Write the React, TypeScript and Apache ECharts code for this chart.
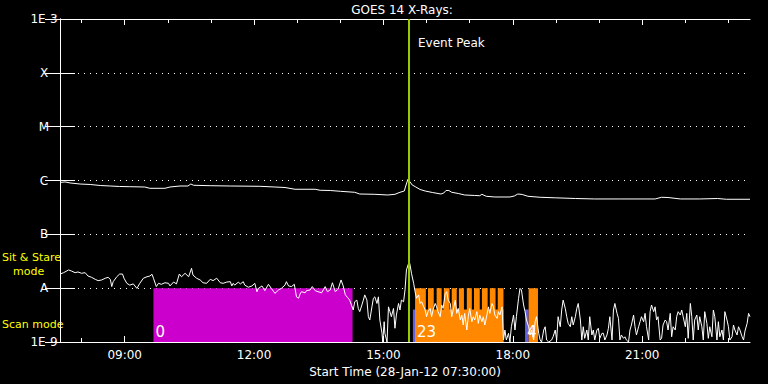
import { useEffect, useRef } from 'react';
import * as echarts from 'echarts';

// ---------- axis settings ----------
const START_HOUR_MIN = 7 * 60 + 30; // start time 07:30:00 (minutes after midnight)
const SPAN_MIN = 960; // 16 hours shown
const Y_MIN = 1e-9;
const Y_MAX = 1e-3;
const yLevelLabels = ['1E-9', 'A', 'B', 'C', 'M', 'X', '1E-3']; // decades 1e-9 .. 1e-3
const majorTickMin = [90, 270, 450, 630, 810]; // 09:00 12:00 15:00 18:00 21:00
const hourTickMin = [30, 90, 150, 210, 270, 330, 390, 450, 510, 570, 630, 690, 750, 810, 870, 930];

// ---------- 1-8 Å (long channel), minutes after start / W m^-2 ----------
const longTimes = [0, 7, 14, 28, 42, 56, 70, 83, 97, 118, 125, 146, 153, 167, 178, 182, 186, 209, 237, 278, 299, 313, 327, 355, 362, 376, 390, 410, 417, 438, 456, 466, 473, 479, 481, 484, 487, 490, 495, 501, 508, 518, 530, 534, 537, 541, 545, 554, 563, 577, 584, 587, 593, 605, 626, 632, 637, 643, 651, 668, 689, 717, 744, 779, 828, 837, 846, 863, 890, 915, 927, 960];
const longFlux = [9.2e-7, 9.4e-7, 9.0e-7, 8.6e-7, 8.43e-7, 8.07e-7, 7.9e-7, 7.74e-7, 7.67e-7, 7.57e-7, 7.16e-7, 7.16e-7, 7.57e-7, 7.9e-7, 7.9e-7, 8.6e-7, 8.15e-7, 8.01e-7, 7.9e-7, 7.8e-7, 7.57e-7, 7.41e-7, 6.87e-7, 6.87e-7, 6.58e-7, 6.52e-7, 6.3e-7, 6.04e-7, 5.61e-7, 5.54e-7, 5.38e-7, 5.54e-7, 6.04e-7, 6.38e-7, 7.9e-7, 1.05e-6, 9.4e-7, 8.26e-7, 7.57e-7, 6.81e-7, 6.38e-7, 5.99e-7, 5.61e-7, 5.86e-7, 6.52e-7, 6.52e-7, 6.04e-7, 5.74e-7, 5.38e-7, 5.27e-7, 5.22e-7, 5.54e-7, 5.09e-7, 4.94e-7, 4.94e-7, 5.15e-7, 5.61e-7, 5.5e-7, 5.09e-7, 4.88e-7, 4.77e-7, 4.63e-7, 4.54e-7, 4.54e-7, 4.54e-7, 4.88e-7, 4.83e-7, 4.54e-7, 4.54e-7, 4.63e-7, 4.48e-7, 4.48e-7];

// ---------- 0.5-4 Å (short channel) ----------
const shortTimes = [
  0, 5, 12, 16, 21, 25, 30, 35, 39, 44, 49, 53, 58, 63, 67, 70, 72, 74, 79, 83, 87, 89, 93, 97, 102, 107, 111, 116, 121, 125, 128, 130, 134, 137, 141, 146, 151, 153, 158, 162, 166, 169, 174, 179, 183, 185, 190, 195, 199, 204, 209, 213, 218, 223, 227, 232, 237, 239, 241,
  243, 248, 251, 255, 257, 262, 267, 271, 274, 276, 281, 285, 290, 294, 299, 304, 308, 313, 315, 318, 322, 326, 329, 332, 334, 336, 341, 343, 348, 351, 355, 359, 364, 369, 372, 376, 379, 383, 387, 391, 394, 397, 401, 403, 406, 408, 410, 413, 415, 417, 420, 422, 424, 427, 429, 431, 434, 436, 438, 441, 443, 445, 448, 449, 451, 452, 455, 457, 459, 461, 464, 466, 468, 471, 473, 475, 478, 480, 481, 482, 485, 486, 487, 489, 492, 494, 496, 499, 501, 503, 505, 508, 510, 512, 515, 517, 519, 522, 524, 526, 529, 531, 533, 536, 538, 540, 543, 545, 547, 550, 552, 554, 557, 559, 561, 563, 566, 568, 570, 573, 575, 577, 580, 582, 584, 587, 589, 591, 594, 596, 598, 601, 603, 605, 608, 610, 612, 615, 617, 619, 621, 624, 626, 628, 631, 633, 635, 638, 640, 642, 645, 647, 649, 652, 654, 656, 659, 661, 663, 666, 668, 670, 673, 675, 677, 680, 684, 686, 689, 691, 693, 696, 698, 700, 703, 705, 707, 710, 712, 714, 717, 719, 721,
  724, 726, 728, 730, 733, 735, 737, 740, 742, 744, 747, 749, 751, 754, 756, 758, 761, 763, 765, 768, 770, 772, 775, 777, 779, 781, 784, 786, 788, 791, 793, 795, 798, 800, 802, 805, 807, 809, 812, 814, 816, 819, 821, 823, 826, 828, 830, 832, 835, 837, 839, 842, 844, 846, 849, 851, 853, 856, 858, 860, 863, 865, 867, 870, 872, 874, 877, 879, 881, 883, 886, 888, 890, 893, 895, 897, 900, 902, 904, 907, 909, 911, 914, 916, 918, 921, 923, 925, 928, 930, 932, 935, 937, 939, 942, 944, 946, 949, 951, 953, 956, 958, 960,
];
const shortFlux = [
  1.83e-8, 1.94e-8, 2.18e-8, 2.08e-8, 1.94e-8, 2.0e-8, 1.89e-8, 1.94e-8, 1.68e-8, 1.59e-8, 1.46e-8, 1.38e-8, 1.42e-8, 1.53e-8, 1.59e-8, 1.46e-8, 1.07e-8, 1.32e-8, 1.63e-8, 1.83e-8, 1.83e-8, 1.53e-8, 1.23e-8, 1.14e-8, 1.2e-8, 9.9e-9, 1.23e-8, 1.53e-8, 1.63e-8, 1.68e-8, 1.81e-8, 1.53e-8, 1.07e-8, 1.23e-8, 1.18e-8, 1.26e-8, 1.23e-8, 1.1e-8, 1.3e-8, 1.2e-8, 1.83e-8, 1.63e-8, 1.89e-8, 1.63e-8, 2.34e-8, 1.75e-8, 1.53e-8, 1.42e-8, 1.26e-8, 1.23e-8, 1.46e-8, 1.38e-8, 1.53e-8, 1.26e-8, 1.23e-8, 1.3e-8, 1.32e-8, 1.1e-8, 1.23e-8,
  1.14e-8, 1.29e-8, 1.2e-8, 1.32e-8, 1.14e-8, 1.04e-8, 1.1e-8, 1.23e-8, 8.6e-9, 9.9e-9, 1.1e-8, 9.0e-9, 1.18e-8, 9.9e-9, 8.0e-9, 9.25e-9, 9.9e-9, 1.14e-8, 1.32e-8, 1.1e-8, 1.07e-8, 1.18e-8, 6.9e-9, 6.5e-9, 7.8e-9, 8.6e-9, 8.2e-9, 9.0e-9, 9.25e-9, 1.07e-8, 9.0e-9, 8.6e-9, 8.2e-9, 1.07e-8, 8.6e-9, 9.25e-9, 1.26e-8, 8.6e-9, 9.6e-9, 1.42e-8, 1.1e-8, 7.5e-9, 6.5e-9, 6.0e-9, 4.67e-9, 3.93e-9, 5.6e-9, 6.0e-9, 4.2e-9, 3.66e-9, 4.87e-9, 6.0e-9, 7.5e-9, 6.0e-9, 2.95e-9, 2.56e-9, 4.5e-9, 6.5e-9, 6.9e-9, 5.2e-9, 6.9e-9, 2.56e-9, 1.45e-9, 1.0e-9, 2.38e-9, 1.45e-9, 1.0e-9, 4.5e-9, 3.66e-9, 2.95e-9, 4.2e-9, 1.8e-9, 3.17e-9, 5.2e-9, 3.93e-9, 6.0e-9, 5.6e-9, 9.25e-9, 1.42e-8, 2.18e-8, 2.9e-8, 3.1e-8, 2.7e-8, 1.89e-8, 1.23e-8, 8.6e-9, 6.5e-9, 7.5e-9, 5.2e-9, 5.6e-9, 4.87e-9, 3.93e-9, 2.95e-9, 3.66e-9, 4.2e-9, 2.95e-9, 3.93e-9, 5.2e-9, 4.5e-9, 3.66e-9, 2.95e-9, 4.87e-9, 4.2e-9, 8.0e-9, 8.6e-9, 6.0e-9, 5.2e-9, 2.95e-9, 3.93e-9, 6.0e-9, 3.4e-9, 4.2e-9, 2.56e-9, 3.17e-9, 2.07e-9, 3.4e-9, 1.67e-9, 2.95e-9, 4.2e-9, 2.38e-9, 2.95e-9, 2.56e-9, 3.66e-9, 2.22e-9, 3.17e-9, 2.38e-9, 2.95e-9, 2.07e-9, 3.17e-9, 4.5e-9, 3.4e-9, 5.2e-9, 4.5e-9, 3.17e-9, 2.75e-9, 3.66e-9, 3.17e-9, 4.5e-9, 1.09e-9, 1.67e-9, 1.09e-9, 1.45e-9, 1.0e-9, 1.92e-9, 3.17e-9, 1.67e-9, 2.95e-9, 6.5e-9, 9.9e-9, 9.25e-9, 4.87e-9, 3.66e-9, 2.56e-9, 1.92e-9, 1.35e-9, 1.67e-9, 1.09e-9, 2.38e-9, 2.95e-9, 1.45e-9, 1.09e-9, 1.0e-9, 1.67e-9, 1.92e-9, 1.09e-9, 1.0e-9, 1.09e-9, 1.25e-9, 1.67e-9, 1.09e-9, 2.95e-9, 1.92e-9, 3.93e-9, 6.0e-9, 4.2e-9, 2.95e-9, 2.22e-9, 1.92e-9, 2.95e-9, 2.07e-9, 2.95e-9, 4.2e-9, 5.2e-9,
  2.56e-9, 1.09e-9, 1.92e-9, 1.17e-9, 1.67e-9, 1.09e-9, 2.95e-9, 1.35e-9, 1.67e-9, 1.09e-9, 1.67e-9, 1.8e-9, 1.17e-9, 1.45e-9, 1.45e-9, 1.09e-9, 1.35e-9, 1.8e-9, 2.95e-9, 1.09e-9, 3.93e-9, 5.2e-9, 3.4e-9, 2.75e-9, 1.09e-9, 1.35e-9, 1.17e-9, 1.25e-9, 1.09e-9, 1.0e-9, 1.67e-9, 2.07e-9, 3.17e-9, 1.92e-9, 1.35e-9, 1.92e-9, 2.38e-9, 2.95e-9, 2.38e-9, 3.4e-9, 1.92e-9, 1.09e-9, 3.66e-9, 4.87e-9, 3.66e-9, 4.5e-9, 2.56e-9, 2.95e-9, 1.09e-9, 1.17e-9, 2.07e-9, 2.56e-9, 2.38e-9, 1.67e-9, 3.4e-9, 1.25e-9, 1.92e-9, 1.67e-9, 2.95e-9, 3.66e-9, 3.17e-9, 3.93e-9, 2.95e-9, 1.92e-9, 3.4e-9, 1.17e-9, 5.2e-9, 2.95e-9, 1.09e-9, 2.56e-9, 3.17e-9, 1.67e-9, 2.95e-9, 1.92e-9, 1.09e-9, 3.66e-9, 2.22e-9, 1.17e-9, 1.92e-9, 1.25e-9, 3.93e-9, 2.95e-9, 1.09e-9, 2.38e-9, 1.25e-9, 1.67e-9, 1.09e-9, 3.66e-9, 2.56e-9, 1.92e-9, 1.09e-9, 1.25e-9, 2.07e-9, 1.67e-9, 1.35e-9, 1.92e-9, 1.67e-9, 1.25e-9, 1.09e-9, 1.6e-9, 2.22e-9, 3.4e-9, 2.95e-9,
];

// ---------- event peak ----------
const eventPeakMin = 485;

// ---------- observing-mode blocks (minutes after start, top level in W m^-2) ----------
const blockStart = [130, 491, 494, 494, 512, 524, 534, 545, 555, 566, 576, 587, 598, 609, 647, 652];
const blockEnd = [407, 494, 617, 509, 520, 531, 542, 552, 562, 573, 584, 595, 606, 617, 652, 665];
const blockTop = [1e-8, 4e-9, 4e-9, 1e-8, 1e-8, 1e-8, 1e-8, 1e-8, 1e-8, 1e-8, 1e-8, 1e-8, 1e-8, 1e-8, 4e-9, 1e-8];
const blockMode = ['stare0', 'scan', 'stare', 'stare', 'stare', 'stare', 'stare', 'stare', 'stare', 'stare', 'stare', 'stare', 'stare', 'stare', 'scan', 'stare'];
const modeColors: Record<string, string> = { stare0: '#cc00cc', stare: '#ff8800', scan: '#6060e0' };
const targetLabelMin = [130, 494, 647];
const targetLabelText = ['0', '23', '4'];

const FONT = 'DejaVu Sans';

function fmtTime(m: number): string {
  const t = START_HOUR_MIN + m;
  const hh = Math.floor(t / 60) % 24;
  const mm = Math.round(t % 60);
  return `${String(hh).padStart(2, '0')}:${String(mm).padStart(2, '0')}`;
}

export default function App() {
  const ref = useRef<HTMLDivElement>(null);

  useEffect(() => {
    if (!ref.current) return;
    const chart = echarts.init(ref.current, undefined, { renderer: 'svg' });
    const white = '#ffffff';

    const xBase = { type: 'value', min: 0, max: SPAN_MIN, gridIndex: 0, splitLine: { show: false } };
    const yBase = { type: 'log', logBase: 10, min: Y_MIN, max: Y_MAX, splitNumber: 6, minorTick: { show: false } };
    const txt = (text: string, x: number, y: number, fill: string, size: number, align = 'left') => ({
      type: 'text',
      x,
      y,
      style: { text, fill, font: `${size}px ${FONT}`, align, verticalAlign: 'middle', textAlign: align, textVerticalAlign: 'middle' },
    });

    const option: any = {
      animation: false,
      backgroundColor: '#000000',
      grid: { left: 60, right: 18, top: 19, bottom: 42 },
      xAxis: [
        {
          ...xBase,
          position: 'bottom',
          axisLine: { show: true, lineStyle: { color: white, width: 1 } },
          axisTick: { show: true, inside: true, length: 6, customValues: majorTickMin, lineStyle: { color: white } },
          axisLabel: { show: true, customValues: majorTickMin, formatter: (v: number) => fmtTime(v), color: white, fontSize: 12, fontFamily: FONT, margin: 7 },
          name: 'Start Time (28-Jan-12 07:30:00)',
          nameLocation: 'middle',
          nameGap: 20,
          nameTextStyle: { color: white, fontSize: 12, fontFamily: FONT },
        },
        {
          ...xBase,
          position: 'bottom',
          axisLine: { show: false },
          axisTick: { show: true, inside: true, length: 4, customValues: hourTickMin, lineStyle: { color: white } },
          axisLabel: { show: false },
        },
        {
          ...xBase,
          position: 'top',
          axisLine: { show: true, lineStyle: { color: white, width: 1 } },
          axisTick: { show: true, inside: true, length: 6, customValues: majorTickMin, lineStyle: { color: white } },
          axisLabel: { show: false },
        },
        {
          ...xBase,
          position: 'top',
          axisLine: { show: false },
          axisTick: { show: true, inside: true, length: 4, customValues: hourTickMin, lineStyle: { color: white } },
          axisLabel: { show: false },
        },
      ],
      yAxis: [
        {
          ...yBase,
          position: 'left',
          axisLine: { show: true, lineStyle: { color: white, width: 1 } },
          axisTick: { show: true, inside: true, length: 15, lineStyle: { color: white } },
          axisLabel: {
            color: white,
            fontSize: 12,
            fontFamily: FONT,
            margin: 16,
            align: 'center',
            formatter: (v: number) => {
              const e = Math.round(Math.log10(v));
              return yLevelLabels[e + 9] ?? '';
            },
          },
          splitLine: { show: true, lineStyle: { color: white, width: 1, type: [1, 5] } },
        },
        {
          ...yBase,
          position: 'right',
          axisLine: { show: true, lineStyle: { color: white, width: 1 } },
          axisTick: { show: true, inside: true, length: 15, lineStyle: { color: white } },
          axisLabel: { show: false },
          splitLine: { show: false },
        },
      ],
      series: [
        {
          type: 'custom',
          name: 'modes',
          xAxisIndex: 0,
          yAxisIndex: 0,
          z: 1,
          silent: true,
          encode: { x: [0, 1], y: 2 },
          data: blockStart.map((s, i) => [s, blockEnd[i], blockTop[i]]),
          renderItem: (params: any, api: any) => {
            const p1 = api.coord([api.value(0), api.value(2)]);
            const p2 = api.coord([api.value(1), Y_MIN]);
            return {
              type: 'rect',
              shape: { x: p1[0], y: p1[1], width: p2[0] - p1[0], height: p2[1] - p1[1] },
              style: { fill: modeColors[blockMode[params.dataIndex]] },
            };
          },
        },
        {
          type: 'line',
          name: 'long',
          xAxisIndex: 0,
          yAxisIndex: 0,
          z: 3,
          symbol: 'none',
          showSymbol: false,
          lineStyle: { color: white, width: 1 },
          data: longTimes.map((t, i) => [t, longFlux[i]]),
        },
        {
          type: 'line',
          name: 'short',
          xAxisIndex: 0,
          yAxisIndex: 0,
          z: 3,
          symbol: 'none',
          showSymbol: false,
          lineStyle: { color: white, width: 1 },
          data: shortTimes.map((t, i) => [t, shortFlux[i]]),
        },
        {
          type: 'custom',
          name: 'targets',
          xAxisIndex: 0,
          yAxisIndex: 0,
          z: 5,
          silent: true,
          encode: { x: 0, y: 1 },
          data: targetLabelMin.map((m) => [m, Y_MIN]),
          renderItem: (params: any, api: any) => {
            const p = api.coord([api.value(0), api.value(1)]);
            return {
              type: 'text',
              x: p[0] + 2,
              y: p[1] - 3,
              style: {
                text: targetLabelText[params.dataIndex],
                fill: white,
                font: `15px ${FONT}`,
                align: 'left',
                verticalAlign: 'bottom',
                textAlign: 'left',
                textVerticalAlign: 'bottom',
              },
            };
          },
          markLine: {
            silent: true,
            symbol: ['none', 'none'],
            label: { show: false },
            lineStyle: { color: '#99cc00', width: 2, type: 'solid' },
            data: [{ xAxis: eventPeakMin }],
          },
        },
      ],
      graphic: [
        txt('GOES 14 X-Rays:', 402, 10, white, 12, 'center'),
        txt('Event Peak', 418, 43, white, 12),
        txt('Sit & Stare', 2, 257, '#ffff00', 11),
        txt('mode', 13, 271, '#ffff00', 11),
        txt('Scan mode', 2, 324, '#ffff00', 11),
      ],
    };

    chart.setOption(option);
    return () => chart.dispose();
  }, []);

  return (
    <div
      ref={ref}
      style={{ position: 'fixed', left: 0, top: 0, width: 768, height: 384, background: '#000' }}
    />
  );
}
